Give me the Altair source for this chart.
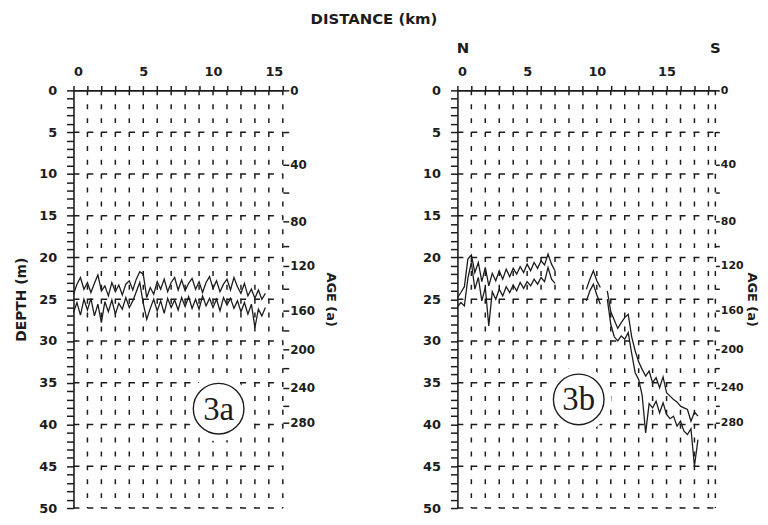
import altair as alt
import pandas as pd

INK = "#1c1c1c"
FONT = "DejaVu Sans"

# ---------------- data ----------------
# Panel 3a: two radar layer traces (distance km, depth m)
A_KM = [0.0, 0.25, 0.5, 0.75, 1.0, 1.25, 1.5, 1.75,
        2.0, 2.25, 2.5, 2.75, 3.0, 3.25, 3.5, 3.75,
        4.0, 4.25, 4.5, 4.75, 5.0, 5.25, 5.5, 5.75,
        6.0, 6.25, 6.5, 6.75, 7.0, 7.25, 7.5, 7.75,
        8.0, 8.25, 8.5, 8.75, 9.0, 9.25, 9.5, 9.75,
        10.0, 10.25, 10.5, 10.75, 11.0, 11.25, 11.5, 11.75,
        12.0, 12.25, 12.5, 12.75, 13.0, 13.25, 13.5, 13.75]
A_UPPER = [24.4, 23.2, 22.4, 23.8, 23.0, 24.2, 23.1, 22.1,
           24.0, 23.4, 24.6, 23.0, 24.1, 23.3, 24.5, 23.2,
           22.8, 23.9, 22.6, 21.7, 22.0, 24.8, 23.6, 24.4,
           22.9, 23.8, 22.6, 24.1, 23.0, 22.4, 23.9, 22.7,
           24.0, 23.1, 22.5, 23.8, 22.9, 24.2, 23.0, 22.3,
           23.7, 22.8, 24.1, 23.2, 22.6, 23.9, 22.4, 23.5,
           24.3, 23.1, 24.6, 23.8, 24.9, 23.9, 25.0, 24.3]
A_LOWER = [26.6, 25.4, 26.9, 25.0, 26.3, 24.9, 27.0, 25.6,
           27.8, 25.3, 26.5, 25.1, 26.8, 25.5, 26.2, 24.8,
           26.0, 25.2, 24.1, 23.0, 25.5, 27.4, 26.1, 25.0,
           26.4, 25.2, 26.7, 24.9, 26.0, 25.1, 26.3, 24.8,
           25.9, 24.7, 26.1, 25.0, 26.2, 24.6, 25.8, 24.9,
           26.0, 25.0, 26.4, 24.8, 25.7, 24.9, 26.1, 25.2,
           26.5, 25.4, 26.8, 25.6, 28.4, 26.2, 27.0, 26.0]

# Panel 3b: three segments, two traces each
B1_KM = [0.0, 0.25, 0.5, 0.75, 1.0, 1.25, 1.5, 1.75,
         2.0, 2.25, 2.5, 2.75, 3.0, 3.25, 3.5, 3.75,
         4.0, 4.25, 4.5, 4.75, 5.0, 5.25, 5.5, 5.75,
         6.0, 6.25, 6.5, 6.75, 7.0]
B1_UPPER = [24.8, 24.2, 23.5, 20.2, 19.7, 21.8, 20.6, 22.9,
            21.2, 23.4, 21.9, 22.8, 21.6, 22.6, 21.4, 22.3,
            21.3, 22.0, 21.1, 21.8, 20.8, 21.6, 20.6, 21.3,
            20.4, 20.9, 19.6, 20.8, 21.6]
B1_LOWER = [25.9, 25.4, 25.8, 22.5, 20.6, 23.8, 22.4, 25.2,
            23.6, 28.2, 24.1, 25.0, 23.8, 24.6, 23.5, 24.2,
            23.3, 24.0, 23.0, 23.7, 22.9, 23.4, 22.6, 23.2,
            22.4, 22.9, 21.2, 22.6, 23.1]
B2_KM = [9.25, 9.5, 9.75, 10.0, 10.25]
B2_UPPER = [23.8, 22.6, 21.6, 22.8, 23.6]
B2_LOWER = [25.2, 24.0, 23.2, 24.5, 25.6]
B3_KM = [10.75, 11.0, 11.25, 11.5, 11.75, 12.0, 12.25, 12.5,
         12.75, 13.0, 13.25, 13.5, 13.75, 14.0, 14.25, 14.5,
         14.75, 15.0, 15.25, 15.5, 15.75, 16.0, 16.25, 16.5,
         16.75, 17.0, 17.25]
B3_UPPER = [24.0, 26.5, 27.5, 28.5, 27.8, 27.2, 26.8, 29.5,
            31.2, 32.5, 33.4, 34.2, 33.6, 35.0, 34.4, 35.6,
            34.3, 36.2, 36.6, 37.0, 37.3, 37.8, 38.0, 38.2,
            39.6, 38.5, 39.0]
B3_LOWER = [25.0, 28.0, 29.5, 30.0, 29.4, 29.8, 29.0, 31.5,
            33.8, 34.6, 36.5, 41.0, 37.5, 38.0, 37.2, 38.6,
            37.4, 38.8, 39.3, 39.0, 40.2, 39.6, 40.8, 41.2,
            40.5, 45.0, 41.8]

# axes / grid
A_XMAX = 15
B_XMAX = 18.5
DEPTH_MAX = 50
A_KM_TICKS = list(range(0, 16))
B_KM_TICKS = list(range(0, 19))
A_VGRID = list(range(1, 16))
B_VGRID = list(range(1, 19)) + [18.5]
DEPTH_TICKS = list(range(0, 51))
DEPTH_GRID = [5, 10, 15, 20, 25, 30, 35, 40, 45, 50]
AGE_YEARS = [0, 20, 40, 60, 80, 100, 120, 140, 160, 180, 200, 220, 240, 260, 280]
AGE_DEPTH = [0.0, 5.0, 8.9, 12.2, 15.7, 18.6, 21.0, 23.8, 26.4, 28.8,
             31.0, 33.3, 35.6, 37.8, 39.8]

# panel labels
A_LABEL = {"km": [10.4], "d": [38.1], "t": ["3a"]}
B_LABEL = {"km": [8.7], "d": [37.0], "t": ["3b"]}
A_NS = {"km": [0.4], "t": ["N"]}
B_NS = {"km": [0.4, 18.5], "t": ["N", "S"]}

W_A, W_B, H = 211, 260, 421


def traces(segments):
    rows = []
    for sid, (kms, up, lo) in enumerate(segments):
        for k, u in zip(kms, up):
            rows.append({"km": k, "depth": u, "key": f"s{sid}u"})
        for k, l in zip(kms, lo):
            rows.append({"km": k, "depth": l, "key": f"s{sid}l"})
    return pd.DataFrame(rows)


age_expr = " : ".join(
    f"abs(datum.value - {d}) < 0.01 ? '{a}'"
    for d, a in zip(AGE_DEPTH, AGE_YEARS) if a % 40 == 0
) + " : ''"


def panel(xmax, km_ticks, vgrid, segs, label, width, depth_title, ns,
          age_font, age_tick, age_tpad):
    xs = alt.Scale(domain=[0, xmax], nice=False, zero=False)
    ys = alt.Scale(domain=[0, DEPTH_MAX], reverse=True, nice=False, zero=False)

    top_axis = alt.Axis(orient="top", values=km_ticks, format="d",
                        labelExpr="datum.value % 5 == 0 ? datum.label : ''",
                        tickSize=5, tickWidth=1.5, tickColor=INK,
                        domainWidth=1.6, domainColor=INK,
                        labelFont=FONT, labelFontSize=13, labelFontWeight="bold",
                        labelColor=INK, labelPadding=7, grid=False, title=None)
    left_kw = dict(orient="left", values=DEPTH_TICKS, format="d",
                   labelExpr="datum.value % 5 == 0 ? datum.label : ''",
                   tickSize=7, tickWidth=1.5, tickColor=INK,
                   domainWidth=1.6, domainColor=INK,
                   labelFont=FONT, labelFontSize=13, labelFontWeight="bold",
                   labelColor=INK, labelPadding=10, grid=False,
                   titleFont=FONT, titleFontSize=14, titleFontWeight="bold",
                   titleColor=INK, titlePadding=10)
    if depth_title:
        left_axis = alt.Axis(title="DEPTH (m)", **left_kw)
    else:
        left_axis = alt.Axis(title=None, **left_kw)
    right_axis = alt.Axis(orient="right", values=AGE_DEPTH, labelExpr=age_expr,
                          domain=False, tickSize=age_tick, tickWidth=1.5,
                          tickColor=INK, labelFont=FONT, labelFontSize=age_font,
                          labelFontWeight="bold", labelColor=INK, labelPadding=1,
                          grid=False, title="AGE (a)", titleFont=FONT,
                          titleFontSize=13, titleFontWeight="bold",
                          titleColor=INK, titlePadding=age_tpad)

    X = lambda f: alt.X(f, scale=xs, axis=top_axis)
    Yn = lambda f: alt.Y(f, scale=ys, axis=None)

    vdf = pd.DataFrame({"km": vgrid, "y0": [0] * len(vgrid),
                        "y1": [DEPTH_MAX] * len(vgrid)})
    vg = alt.Chart(vdf).mark_rule(
        color=INK, strokeWidth=1.5, strokeDash=[5, 9]
    ).encode(x=X("km:Q"), y=Yn("y0:Q"), y2="y1:Q")

    hdf = pd.DataFrame({"d": DEPTH_GRID, "x0": [0] * len(DEPTH_GRID),
                        "x1": [xmax] * len(DEPTH_GRID)})
    hg = alt.Chart(hdf).mark_rule(
        color=INK, strokeWidth=1.5, strokeDash=[6, 8]
    ).encode(y=Yn("d:Q"), x=X("x0:Q"), x2="x1:Q")

    age = alt.Chart(pd.DataFrame({"d": AGE_DEPTH})).mark_point(opacity=0).encode(
        y=alt.Y("d:Q", scale=ys, axis=right_axis), x=alt.value(0))

    lines = alt.Chart(traces(segs)).mark_line(
        color=INK, strokeWidth=1.3
    ).encode(
        x=X("km:Q"),
        y=alt.Y("depth:Q", scale=ys, axis=left_axis),
        detail="key:N",
    )

    lab_df = pd.DataFrame(label)
    halo = alt.Chart(lab_df).mark_point(
        shape="circle", filled=True, fill="white", opacity=1, size=66 * 66
    ).encode(x=X("km:Q"), y=Yn("d:Q"))
    ring = alt.Chart(lab_df).mark_point(
        shape="circle", filled=True, fill="white", stroke=INK, strokeWidth=1.4,
        opacity=1, size=51 * 51
    ).encode(x=X("km:Q"), y=Yn("d:Q"))
    txt = alt.Chart(lab_df).mark_text(
        font="Liberation Serif", fontSize=33, color=INK, baseline="middle", dy=1
    ).encode(x=X("km:Q"), y=Yn("d:Q"), text="t:N")

    nst = alt.Chart(pd.DataFrame(ns)).mark_text(
        font=FONT, fontSize=15, fontWeight="bold", color=INK,
        opacity=0 if depth_title else 1
    ).encode(x=X("km:Q"), y=alt.value(-43), text="t:N")

    return alt.layer(vg, hg, age, lines, halo, ring, txt, nst).resolve_axis(
        y="independent"
    ).properties(width=width, height=H)


left = panel(A_XMAX, A_KM_TICKS, A_VGRID,
             [(A_KM, A_UPPER, A_LOWER)], A_LABEL, W_A, True, A_NS,
             12, 6, 9)
right = panel(B_XMAX, B_KM_TICKS, B_VGRID,
              [(B1_KM, B1_UPPER, B1_LOWER), (B2_KM, B2_UPPER, B2_LOWER),
               (B3_KM, B3_UPPER, B3_LOWER)], B_LABEL, W_B, False, B_NS,
              11, 4, 1)

chart = alt.hconcat(left, right, spacing=85).properties(
    title=alt.TitleParams("DISTANCE (km)", font=FONT, fontSize=15,
                          fontWeight="bold", color=INK, anchor="middle",
                          offset=14, dx=-12),
    padding={"left": 6, "top": 2, "right": 3, "bottom": 0},
    background="white",
).configure_view(stroke=None)

chart.save("out.html", embed_options={"renderer": "svg", "actions": False})
